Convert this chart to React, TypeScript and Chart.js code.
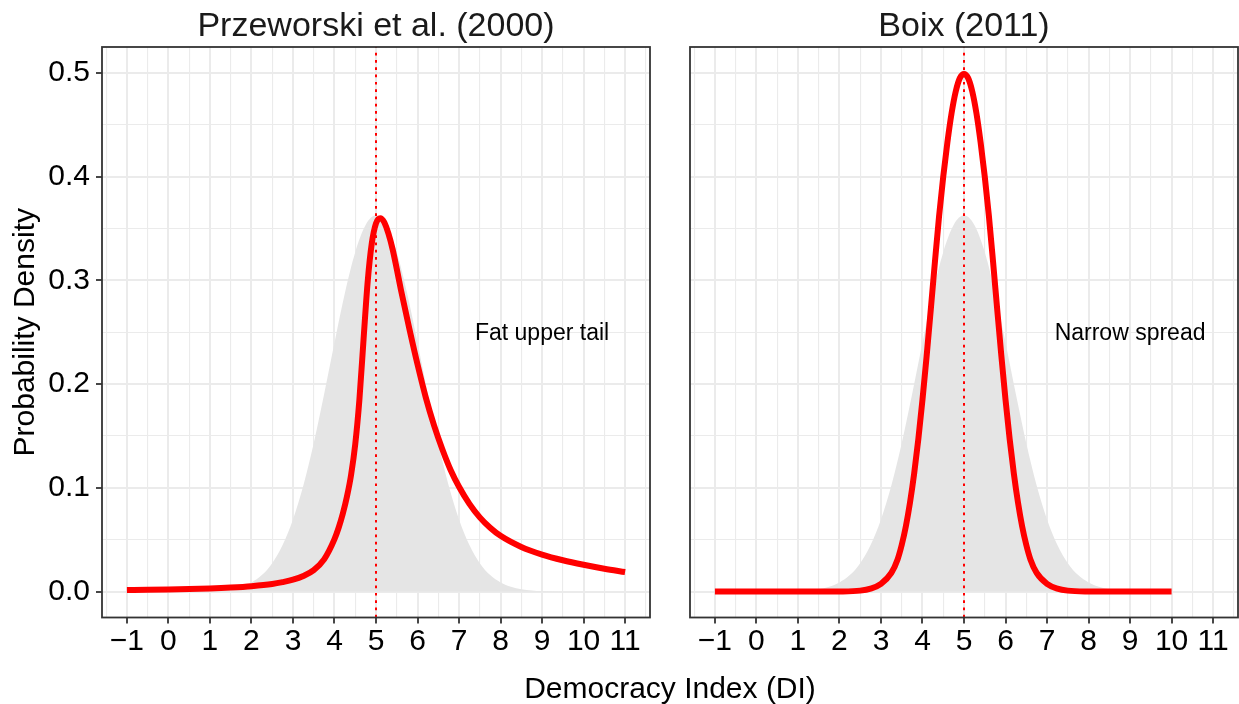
import { useEffect, useRef } from "react";
import { Chart, registerables } from "chart.js";

Chart.register(...registerables);

// ---- data -------------------------------------------------------------

const PANEL_TITLES = ["Przeworski et al. (2000)", "Boix (2011)"];
const PANEL_NOTES = ["Fat upper tail", "Narrow spread"];
const NOTE_X = 9;
const NOTE_Y = 0.25;
const REFERENCE_DI = 5;

const X_MAJOR = [-1, 0, 1, 2, 3, 4, 5, 6, 7, 8, 9, 10, 11];
const Y_MAJOR = [0, 0.1, 0.2, 0.3, 0.4, 0.5];

// shared grey reference density
const PRIOR_X = [
  -1, 0, 0.5, 1, 1.25, 1.5, 1.75, 2, 2.25, 2.5, 2.75, 3, 3.25, 3.5, 3.75, 4,
  4.25, 4.5, 4.75, 5, 5.25, 5.5, 5.75, 6, 6.25, 6.5, 6.75, 7, 7.25, 7.5, 7.75,
  8, 8.25, 8.5, 8.75, 9, 9.5, 10, 11,
];
const PRIOR_Y = [
  0, 0, 0.0001, 0.0005, 0.0011, 0.0023, 0.0046, 0.0088, 0.0159, 0.0274,
  0.0448, 0.0695, 0.1023, 0.1431, 0.1902, 0.2399, 0.2875, 0.3271, 0.3534,
  0.3627, 0.3534, 0.3271, 0.2875, 0.2399, 0.1902, 0.1431, 0.1023, 0.0695,
  0.0448, 0.0274, 0.0159, 0.0088, 0.0046, 0.0023, 0.0011, 0.0005, 0.0001, 0, 0,
];

// Przeworski et al. (2000): skewed, heavy upper tail
const PRZ_X = [
  -1, -0.5, 0, 0.5, 1, 1.5, 2, 2.5, 2.75, 3, 3.25, 3.5, 3.75, 4, 4.1, 4.2, 4.3,
  4.4, 4.5, 4.6, 4.7, 4.8, 4.9, 5, 5.1, 5.2, 5.3, 5.4, 5.5, 5.6, 5.8, 6, 6.2,
  6.4, 6.6, 6.8, 7, 7.25, 7.5, 7.75, 8, 8.5, 9, 9.5, 10, 10.5, 11,
];
const PRZ_Y = [
  0.0015, 0.0017, 0.002, 0.0024, 0.003, 0.0039, 0.0052, 0.0073, 0.0091,
  0.0114, 0.015, 0.0207, 0.031, 0.0505, 0.0615, 0.075, 0.0915, 0.1125, 0.142,
  0.185, 0.243, 0.299, 0.336, 0.355, 0.36, 0.356, 0.345, 0.33, 0.311, 0.291,
  0.254, 0.219, 0.187, 0.16, 0.137, 0.117, 0.101, 0.0845, 0.0715, 0.0615,
  0.0537, 0.043, 0.0357, 0.0302, 0.0258, 0.022, 0.0188,
];

// Boix (2011): narrow, symmetric
const BOIX_X = [
  -1, 0, 1, 1.5, 2, 2.5, 2.75, 3, 3.25, 3.4, 3.5, 3.6, 3.7, 3.8, 3.9, 4, 4.1,
  4.2, 4.3, 4.4, 4.5, 4.6, 4.7, 4.8, 4.9, 5, 5.1, 5.2, 5.3, 5.4, 5.5, 5.6, 5.7,
  5.8, 5.9, 6, 6.1, 6.2, 6.3, 6.4, 6.5, 6.6, 6.75, 7, 7.25, 7.5, 8, 8.5, 9, 10,
];
const BOIX_Y = [
  0, 0, 0, 0, 0.0001, 0.0009, 0.0028, 0.0075, 0.018, 0.031, 0.045, 0.063,
  0.086, 0.114, 0.147, 0.185, 0.227, 0.272, 0.318, 0.362, 0.4, 0.433, 0.461,
  0.482, 0.495, 0.499, 0.495, 0.482, 0.461, 0.433, 0.4, 0.362, 0.318, 0.272,
  0.227, 0.185, 0.147, 0.114, 0.086, 0.063, 0.045, 0.031, 0.018, 0.0075,
  0.0028, 0.0009, 0.0001, 0, 0, 0,
];

// ---- layout & style ---------------------------------------------------

const FONT = '"Liberation Sans", Arial, Helvetica, sans-serif';
const X_MIN = -1.6;
const X_MAX = 11.6;
const Y_MIN = -0.025;
const Y_MAX = 0.525;
const PANEL_TOP = 47;
const X_AXIS_HEIGHT = 86.5;
const GRID_COLOR = "#EBEBEB";
const FRAME_COLOR = "#333333";

// major breaks plus the half-way minor breaks between them
const X_GRID: number[] = [];
for (let i = 0; i < X_MAJOR.length; i++) {
  X_GRID.push(X_MAJOR[i] - 0.5, X_MAJOR[i]);
}
X_GRID.push(X_MAJOR[X_MAJOR.length - 1] + 0.5);
const Y_GRID: number[] = [];
for (let i = 0; i < Y_MAJOR.length; i++) {
  if (i > 0) Y_GRID.push((Y_MAJOR[i - 1] + Y_MAJOR[i]) / 2);
  Y_GRID.push(Y_MAJOR[i]);
}

const isMajorX = (v: number) => X_MAJOR.some((m) => Math.abs(m - v) < 1e-9);
const isMajorY = (v: number) => Y_MAJOR.some((m) => Math.abs(m - v) < 1e-9);

const points = (xs: number[], ys: number[]) => xs.map((x, i) => ({ x, y: ys[i] }));

const fmtX = (v: number) => (v < 0 ? "\u2212" + Math.abs(v) : String(v));

const panelDecor = {
  id: "panelDecor",
  afterDatasetsDraw(chart: any, _args: any, opts: any) {
    const { ctx, chartArea: a, scales } = chart;
    const xs = scales.x;
    const ys = scales.y;
    // dotted reference line
    ctx.save();
    ctx.beginPath();
    ctx.rect(a.left, a.top, a.right - a.left, a.bottom - a.top);
    ctx.clip();
    const px = xs.getPixelForValue(REFERENCE_DI);
    ctx.strokeStyle = "#FF0000";
    ctx.lineWidth = 2;
    ctx.setLineDash([2.7, 4.6]);
    ctx.beginPath();
    ctx.moveTo(px, a.bottom);
    ctx.lineTo(px, a.top);
    ctx.stroke();
    ctx.restore();
    // annotation
    ctx.save();
    ctx.font = `23px ${FONT}`;
    ctx.fillStyle = "#000000";
    ctx.textAlign = "center";
    ctx.textBaseline = "alphabetic";
    ctx.fillText(
      opts.note,
      xs.getPixelForValue(NOTE_X),
      ys.getPixelForValue(NOTE_Y) + 23 * 0.358
    );
    ctx.restore();
  },
  afterDraw(chart: any, _args: any, opts: any) {
    const { ctx, chartArea: a } = chart;
    ctx.save();
    // panel frame
    ctx.strokeStyle = FRAME_COLOR;
    ctx.lineWidth = 1.8;
    ctx.strokeRect(a.left, a.top, a.right - a.left, a.bottom - a.top);
    // facet title
    ctx.font = `34px ${FONT}`;
    ctx.fillStyle = "#1A1A1A";
    ctx.textAlign = "center";
    ctx.textBaseline = "alphabetic";
    ctx.fillText(opts.title, (a.left + a.right) / 2, 36);
    // y axis title
    if (opts.yTitle) {
      ctx.translate(26, (a.top + a.bottom) / 2);
      ctx.rotate(-Math.PI / 2);
      ctx.font = `30px ${FONT}`;
      ctx.fillStyle = "#000000";
      ctx.textBaseline = "middle";
      ctx.fillText(opts.yTitle, 0, 0);
    }
    ctx.restore();
  },
};

function buildConfig(
  idx: number,
  xs: number[],
  ys: number[],
  showY: boolean,
  yAxisWidth: number,
  padRight: number
): any {
  const tickFont = { family: FONT, size: 30 };
  return {
    type: "line",
    data: {
      datasets: [
        {
          data: points(xs, ys),
          borderColor: "#FF0000",
          borderWidth: 6,
          borderCapStyle: "butt",
          borderJoinStyle: "round",
          pointRadius: 0,
          fill: false,
          cubicInterpolationMode: "monotone",
        },
        {
          data: points(PRIOR_X, PRIOR_Y),
          borderColor: "rgba(0,0,0,0)",
          borderWidth: 0,
          backgroundColor: "#E5E5E5",
          fill: "origin",
          pointRadius: 0,
          cubicInterpolationMode: "monotone",
        },
      ],
    },
    options: {
      animation: false,
      responsive: false,
      maintainAspectRatio: false,
      events: [],
      layout: { padding: { top: PANEL_TOP, right: padRight, bottom: 0, left: 0 } },
      plugins: {
        legend: { display: false },
        tooltip: { enabled: false },
        title: { display: false },
        panelDecor: {
          title: PANEL_TITLES[idx],
          note: PANEL_NOTES[idx],
          yTitle: showY ? "Probability Density" : "",
        },
      },
      scales: {
        x: {
          type: "linear",
          min: X_MIN,
          max: X_MAX,
          afterBuildTicks: (s: any) => {
            s.ticks = X_GRID.map((v) => ({ value: v }));
          },
          afterFit: (s: any) => {
            s.height = X_AXIS_HEIGHT;
          },
          ticks: {
            autoSkip: false,
            maxRotation: 0,
            minRotation: 0,
            padding: 0,
            color: "#000000",
            font: tickFont,
            callback: (v: number) => (isMajorX(v) ? fmtX(v) : ""),
          },
          grid: {
            color: GRID_COLOR,
            lineWidth: (c: any) => (c.tick && isMajorX(c.tick.value) ? 2 : 1.1),
            drawTicks: true,
            tickLength: 6,
            tickWidth: 1.8,
            tickColor: (c: any) =>
              c.tick && isMajorX(c.tick.value) ? FRAME_COLOR : "rgba(0,0,0,0)",
          },
          border: { display: false },
        },
        y: {
          type: "linear",
          min: Y_MIN,
          max: Y_MAX,
          afterBuildTicks: (s: any) => {
            s.ticks = Y_GRID.map((v) => ({ value: v }));
          },
          afterFit: (s: any) => {
            s.width = yAxisWidth;
          },
          ticks: {
            display: showY,
            autoSkip: false,
            padding: 6,
            color: "#000000",
            font: tickFont,
            callback: (v: number) => (isMajorY(v) ? v.toFixed(1) : ""),
          },
          grid: {
            color: GRID_COLOR,
            lineWidth: (c: any) => (c.tick && isMajorY(c.tick.value) ? 2 : 1.1),
            drawTicks: showY,
            tickLength: 6,
            tickWidth: 1.8,
            tickColor: (c: any) =>
              c.tick && isMajorY(c.tick.value) ? FRAME_COLOR : "rgba(0,0,0,0)",
          },
          border: { display: false },
        },
      },
    },
    plugins: [panelDecor],
  };
}

export default function App() {
  const leftRef = useRef<HTMLCanvasElement>(null);
  const rightRef = useRef<HTMLCanvasElement>(null);

  useEffect(() => {
    const charts = [
      new Chart(leftRef.current!, buildConfig(0, PRZ_X, PRZ_Y, true, 102, 10)),
      new Chart(rightRef.current!, buildConfig(1, BOIX_X, BOIX_Y, false, 30, 1)),
    ];
    return () => charts.forEach((c) => c.destroy());
  }, []);

  return (
    <div
      style={{
        position: "fixed",
        left: 0,
        top: 0,
        width: 1239,
        height: 704,
        background: "#ffffff",
        overflow: "hidden",
        fontFamily: FONT,
      }}
    >
      <canvas
        ref={leftRef}
        width={660}
        height={704}
        style={{ position: "absolute", left: 0, top: 0, width: 660, height: 704 }}
      />
      <canvas
        ref={rightRef}
        width={579}
        height={704}
        style={{ position: "absolute", left: 660, top: 0, width: 579, height: 704 }}
      />
      <div
        style={{
          position: "absolute",
          left: 370,
          top: 673,
          width: 600,
          textAlign: "center",
          fontSize: 30,
          lineHeight: "30px",
          color: "#000000",
          whiteSpace: "nowrap",
        }}
      >
        Democracy Index (DI)
      </div>
    </div>
  );
}
